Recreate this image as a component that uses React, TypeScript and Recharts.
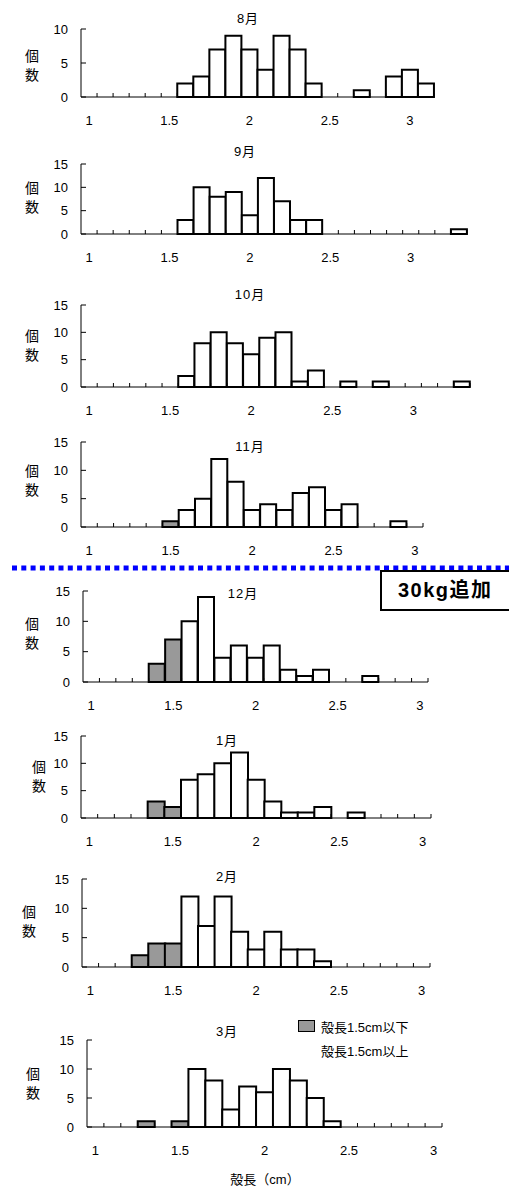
import { BarChart, Bar, XAxis, YAxis, Legend } from "recharts";

const W = 509;
const FONT = "'Liberation Sans', 'Noto Sans CJK JP', sans-serif";
const GRAY = "#999999";

// size classes (cm), one per bar
const BINS = [
  "1.0", "1.1", "1.2", "1.3", "1.4", "1.5", "1.6", "1.7", "1.8", "1.9", "2.0", "2.1",
  "2.2", "2.3", "2.4", "2.5", "2.6", "2.7", "2.8", "2.9", "3.0", "3.1", "3.2", "3.3",
];
const TICK_BINS = ["1.0", "1.5", "2.0", "2.5", "3.0"];
const TICK_TEXT = ["1", "1.5", "2", "2.5", "3"];
const SMALL_LIMIT = 1.5;

const AUG = [0, 0, 0, 0, 0, 0, 2, 3, 7, 9, 7, 4, 9, 7, 2, 0, 0, 1, 0, 3, 4, 2];
const SEP = [0, 0, 0, 0, 0, 0, 3, 10, 8, 9, 4, 12, 7, 3, 3, 0, 0, 0, 0, 0, 0, 0, 0, 1];
const OCT = [0, 0, 0, 0, 0, 0, 2, 8, 10, 8, 6, 9, 10, 1, 3, 0, 1, 0, 1, 0, 0, 0, 0, 1];
const NOV = [0, 0, 0, 0, 0, 1, 3, 5, 12, 8, 3, 4, 3, 6, 7, 3, 4, 0, 0, 1, 0];
const DEC = [0, 0, 0, 0, 3, 7, 10, 14, 4, 6, 4, 6, 2, 1, 2, 0, 0, 1, 0, 0, 0];
const JAN = [0, 0, 0, 0, 3, 2, 7, 8, 10, 12, 7, 3, 1, 1, 2, 0, 1, 0, 0, 0, 0];
const FEB = [0, 0, 0, 2, 4, 4, 12, 7, 12, 6, 3, 6, 3, 3, 1, 0, 0, 0, 0, 0, 0];
const MAR = [0, 0, 0, 1, 0, 1, 10, 8, 3, 7, 6, 10, 8, 5, 1, 0, 0, 0, 0, 0, 0];

const MONTHS = ["8月", "9月", "10月", "11月", "12月", "1月", "2月", "3月"];
const COUNTS = [AUG, SEP, OCT, NOV, DEC, JAN, FEB, MAR];
const Y_MAX = [10, 15, 15, 15, 15, 15, 15, 15];

const SERIES_ORDER = ["small", "large"];

// plot box of each panel on the page: left, right, top (max tick), bottom (zero line)
const LAYOUT = [
  { x0: 81, x1: 434, top: 29, bottom: 97, tx: 248, ty: 17, lx: 32, ly: 57 },
  { x0: 81, x1: 467, top: 164, bottom: 234, tx: 245, ty: 150, lx: 32, ly: 189 },
  { x0: 81, x1: 470, top: 305, bottom: 387, tx: 250, ty: 293, lx: 32, ly: 337 },
  { x0: 81, x1: 423, top: 442, bottom: 527, tx: 250, ty: 445, lx: 32, ly: 472 },
  { x0: 83, x1: 428, top: 591, bottom: 682, tx: 243, ty: 592, lx: 32, ly: 625 },
  { x0: 81, x1: 431, top: 736, bottom: 818, tx: 227, ty: 739, lx: 39, ly: 768 },
  { x0: 82, x1: 430, top: 879, bottom: 967, tx: 227, ty: 875, lx: 29, ly: 913 },
  { x0: 87, x1: 442, top: 1040, bottom: 1127, tx: 227, ty: 1030, lx: 33, ly: 1075 },
];

const MT = 30;
const MB = 8;
const AXIS_H = 30;

const tickStyle = { fill: "#000", fontSize: 13, fontFamily: FONT };

// one tick per class: boundary mark pointing up, label only on 1, 1.5, 2 ...
function BinTick(props: any) {
  const { x, y, payload, bw, n } = props;
  const i = BINS.indexOf(payload.value);
  const k = TICK_BINS.indexOf(payload.value);
  const left = x - bw / 2;
  return (
    <g>
      {i > 0 && <line x1={left} x2={left} y1={y} y2={y - 4} stroke="#000" />}
      {i === n - 1 && <line x1={x + bw / 2} x2={x + bw / 2} y1={y} y2={y - 4} stroke="#000" />}
      {k >= 0 && (
        <text x={x} y={y + 28} textAnchor="middle" fill="#000" fontSize={13} fontFamily={FONT}>
          {TICK_TEXT[k]}
        </text>
      )}
    </g>
  );
}

function LegendBox({ payload }: any) {
  const items = [...(payload || [])].sort(
    (a: any, b: any) => SERIES_ORDER.indexOf(a.dataKey) - SERIES_ORDER.indexOf(b.dataKey),
  );
  return (
    <div style={{ fontFamily: FONT, fontSize: 13, color: "#000" }}>
      {items.map((e: any) => (
        <div key={e.value} style={{ display: "flex", alignItems: "center", height: 24 }}>
          <span
            style={{
              display: "inline-block", width: 15, height: 10, marginRight: 6,
              background: e.color,
              border: e.color === GRAY ? "1.5px solid #000" : "1.5px solid transparent",
            }}
          />
          <span>{e.value}</span>
        </div>
      ))}
    </div>
  );
}

function MonthChart({ idx }: { idx: number }) {
  const p = LAYOUT[idx];
  const counts = COUNTS[idx];
  const n = counts.length;
  const bins = BINS.slice(0, n);
  const data = counts.map((c, i) => ({
    bin: bins[i],
    small: Number(bins[i]) <= SMALL_LIMIT ? c : 0,
    large: Number(bins[i]) > SMALL_LIMIT ? c : 0,
  }));
  const bw = (p.x1 - p.x0) / n;
  const yTicks = Y_MAX[idx] === 10 ? [0, 5, 10] : [0, 5, 10, 15];
  const H = MT + (p.bottom - p.top) + AXIS_H + MB;
  const last = idx === MONTHS.length - 1;

  return (
    <div style={{ position: "absolute", left: 0, top: p.top - MT }}>
      <BarChart
        width={W}
        height={H}
        data={data}
        margin={{ top: MT, right: W - p.x1, bottom: MB, left: 0 }}
        barCategoryGap={0}
        barGap={0}
      >
        <XAxis
          dataKey="bin"
          ticks={bins}
          interval={0}
          tickLine={false}
          tickSize={0}
          tickMargin={0}
          height={AXIS_H}
          stroke="#000"
          tick={(t: any) => <BinTick {...t} bw={bw} n={n} />}
        />
        <YAxis
          width={p.x0}
          domain={[0, Y_MAX[idx]]}
          ticks={yTicks}
          interval={0}
          tickSize={-5}
          tickMargin={18}
          stroke="#000"
          tick={tickStyle}
        />
        <Bar dataKey="small" name="殻長1.5cm以下" stackId="s" fill={GRAY}
          stroke="#000" strokeWidth={2} isAnimationActive={false} />
        <Bar dataKey="large" name="殻長1.5cm以上" stackId="s" fill="#fff"
          stroke="#000" strokeWidth={2} isAnimationActive={false} />
        {last && (
          <Legend
            layout="horizontal"
            verticalAlign="middle"
            align="center"
            content={LegendBox}
            wrapperStyle={{ position: "absolute", left: 298, top: 4, width: 160, height: 48 }}
          />
        )}
      </BarChart>
    </div>
  );
}

const centered = (x: number, y: number): React.CSSProperties => ({
  position: "absolute", left: x, top: y, transform: "translate(-50%, -50%)", whiteSpace: "nowrap",
});

export default function App() {
  return (
    <div
      style={{
        position: "absolute", left: 0, top: 0, width: W, height: 1187, overflow: "hidden",
        background: "#fff", fontFamily: FONT, color: "#000",
      }}
    >
      {MONTHS.map((m, i) => (
        <MonthChart key={m} idx={i} />
      ))}
      {MONTHS.map((m, i) => (
        <div key={"t" + m} style={{ ...centered(LAYOUT[i].tx, LAYOUT[i].ty), fontSize: 13, letterSpacing: 1 }}>{m}</div>
      ))}
      {MONTHS.map((m, i) => (
        <div key={"y" + m} style={{ ...centered(LAYOUT[i].lx, LAYOUT[i].ly + 9), fontSize: 14, lineHeight: "19px", textAlign: "center" }}>
          個<br />数
        </div>
      ))}
      <div style={{ ...centered(265, 1178), fontSize: 13 }}>殻長（cm）</div>

      {/* divider: extra 30 kg added from December */}
      <svg width={W} height={12} style={{ position: "absolute", left: 0, top: 562 }}>
        <line x1={12} y1={6} x2={W} y2={6} stroke="#0000ff" strokeWidth={5} strokeDasharray="5 4.3" />
      </svg>
      <div
        style={{
          position: "absolute", left: 380, top: 570, width: 150, height: 37,
          border: "2px solid #000", background: "#fff", boxSizing: "content-box",
          fontSize: 20, fontWeight: 700, lineHeight: "37px", paddingLeft: 16, letterSpacing: 1.5,
        }}
      >
        30kg追加
      </div>
    </div>
  );
}
